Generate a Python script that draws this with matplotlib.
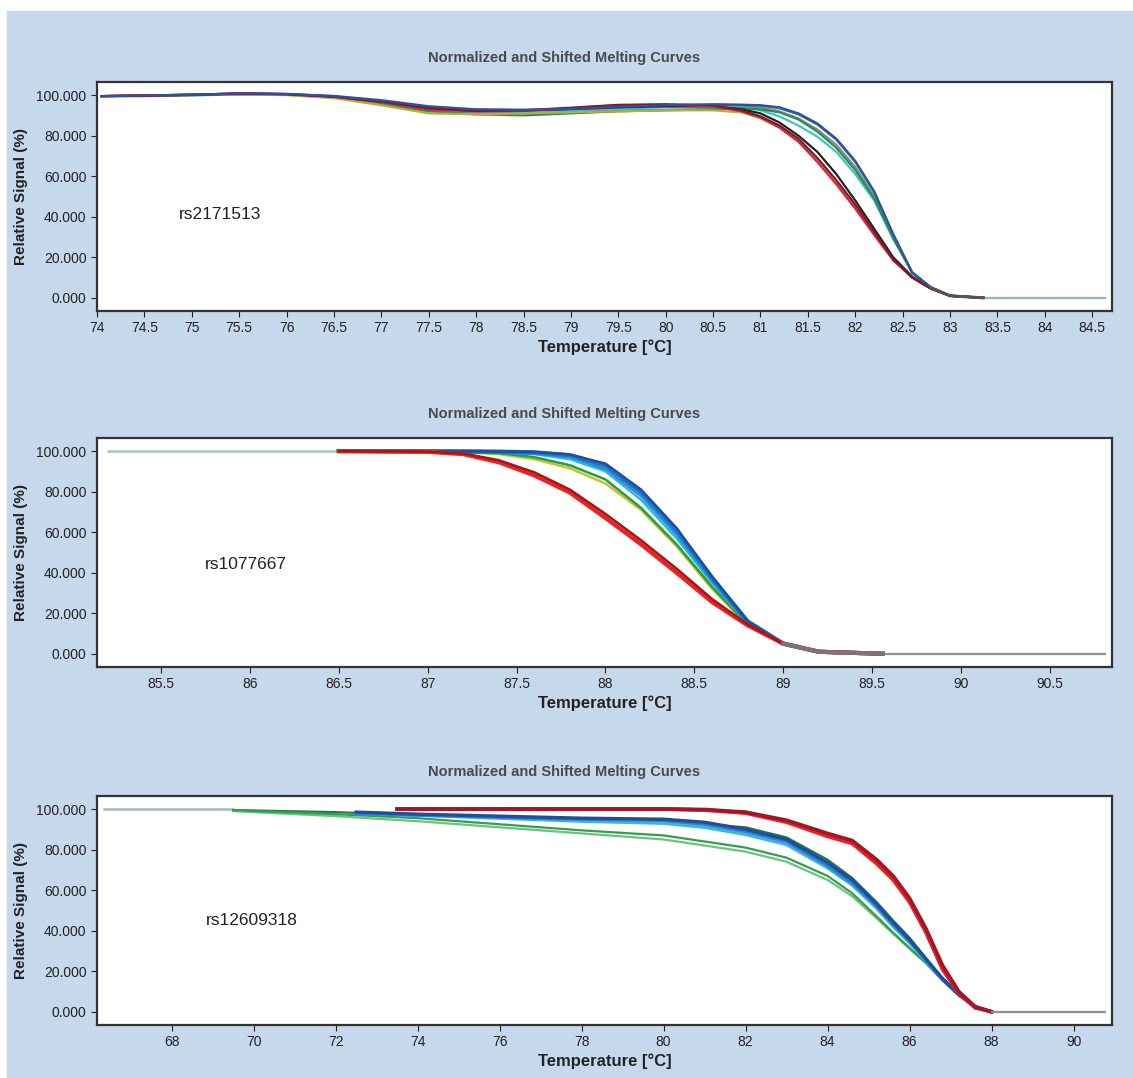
import matplotlib
matplotlib.use("Agg")
import matplotlib.pyplot as plt
from matplotlib.patches import Rectangle

plt.rcParams['font.family'] = ['Liberation Sans', 'DejaVu Sans']

# ---------------- panel 1: rs2171513 ----------------
p1_t = [74.05, 74.5, 75.0, 75.5, 76.0, 76.5, 77.0, 77.5, 78.0, 78.5, 79.0, 79.5, 80.0,
        80.5, 80.8, 81.0, 81.2, 81.4, 81.6, 81.8, 82.0, 82.2, 82.4, 82.6, 82.8, 83.0, 83.35]
p1_curves = {
    "#8a8a8a": [99.5, 99.6, 100.0, 100.5, 100.3, 99.0, 96.0, 92.5, 91.5, 91.5, 92.0, 92.5, 92.8,
                93.0, 94.5, 94.0, 92.0, 88.5, 83.0, 75.5, 64.5, 50.0, 30.0, 12.5, 5.0, 1.0, 0.0],
    "#3fc4c4": [99.5, 99.7, 100.1, 100.6, 100.4, 99.1, 96.5, 93.5, 92.5, 92.0, 92.5, 93.5, 94.0,
                94.0, 94.0, 92.5, 89.5, 85.0, 79.5, 72.0, 61.0, 48.0, 29.0, 12.5, 5.0, 1.0, 0.0],
    "#2a7f8f": [99.5, 99.8, 100.2, 100.8, 100.5, 99.4, 97.0, 94.0, 92.8, 92.5, 93.0, 94.0, 94.8,
                95.2, 95.0, 94.8, 93.5, 90.5, 85.5, 78.0, 67.0, 52.0, 31.0, 12.5, 5.0, 1.0, 0.0],
    "#2e8b57": [99.5, 99.5, 99.9, 100.3, 100.2, 98.8, 95.5, 92.0, 90.5, 90.0, 91.0, 92.0, 92.5,
                93.0, 93.5, 93.0, 91.5, 88.0, 82.0, 74.0, 63.0, 49.0, 29.5, 12.5, 5.0, 1.0, 0.0],
    "#b0b040": [99.5, 99.6, 100.0, 100.4, 100.0, 98.5, 95.0, 91.0, 90.5, 91.0, 91.5, 92.0, 92.5,
                92.5, 91.5, 88.5, 84.0, 77.5, 68.5, 57.5, 45.5, 32.0, 19.0, 10.0, 4.5, 1.0, 0.0],
    "#222222": [99.5, 99.8, 100.2, 100.8, 100.5, 99.3, 96.8, 93.5, 92.5, 92.5, 93.2, 94.0, 94.5,
                94.5, 93.0, 91.0, 86.5, 80.0, 72.0, 61.0, 48.0, 34.0, 20.0, 10.5, 4.5, 1.0, 0.0],
    "#e0203a": [99.5, 99.8, 100.2, 100.8, 100.5, 99.2, 96.5, 93.0, 92.0, 92.2, 93.5, 95.0, 95.2,
                94.5, 92.0, 89.0, 84.0, 77.0, 67.0, 56.0, 44.0, 31.0, 18.5, 10.0, 4.5, 1.0, 0.0],
    "#7a1c2c": [99.5, 99.7, 100.1, 100.7, 100.4, 99.2, 96.8, 93.5, 92.2, 92.5, 93.8, 95.2, 95.5,
                95.0, 92.5, 89.5, 85.0, 78.5, 69.0, 58.0, 46.0, 32.5, 19.0, 10.0, 4.5, 1.0, 0.0],
    "#3050a0": [99.5, 99.8, 100.2, 100.8, 100.6, 99.6, 97.5, 94.5, 93.0, 92.8, 93.2, 94.2, 95.0,
                95.5, 95.3, 95.0, 94.0, 91.0, 86.0, 78.5, 67.5, 52.5, 31.5, 12.5, 5.0, 1.0, 0.0],
}
p1_tail_t = [83.35, 84.63]
p1_tail_v = [0.0, 0.0]

# ---------------- panel 2: rs1077667 ----------------
p2_lead_t = [85.2, 86.5]
p2_lead_v = [100.0, 100.0]
p2_t = [86.5, 87.0, 87.2, 87.4, 87.6, 87.8, 88.0, 88.2, 88.4, 88.6, 88.8, 89.0, 89.2, 89.56]
p2_curves = {
    "#6a2c8a": [100, 99.9, 99.8, 99.5, 98.8, 96.5, 91.0, 78.0, 59.0, 36.0, 15.5, 5.0, 1.0, 0.0],
    "#c8c030": [100, 99.8, 99.5, 98.5, 96.0, 91.5, 84.0, 71.0, 53.0, 32.0, 14.0, 5.0, 1.0, 0.0],
    "#20a040": [100, 99.8, 99.5, 99.0, 97.0, 93.0, 86.0, 72.0, 54.0, 33.0, 14.5, 5.0, 1.0, 0.0],
    "#20c0d0": [100, 99.8, 99.6, 99.3, 98.5, 96.0, 90.0, 76.0, 57.0, 35.0, 15.0, 5.0, 1.0, 0.0],
    "#2e8fe0": [100, 99.9, 99.8, 99.6, 99.2, 97.5, 92.0, 78.5, 59.5, 36.5, 15.5, 5.0, 1.0, 0.0],
    "#1f6fd0": [100, 99.9, 99.8, 99.7, 99.4, 98.0, 93.0, 80.0, 61.0, 37.5, 16.0, 5.0, 1.0, 0.0],
    "#1d4f9a": [100, 99.9, 99.9, 99.8, 99.5, 98.3, 93.8, 81.0, 62.0, 38.0, 16.0, 5.0, 1.0, 0.0],
    "#ee2020": [100, 99.6, 98.5, 94.5, 88.0, 79.5, 67.0, 54.0, 40.0, 25.5, 14.0, 5.0, 1.0, 0.0],
    "#a01818": [100, 99.7, 98.8, 95.5, 89.5, 81.0, 69.0, 56.0, 42.0, 27.0, 14.5, 5.0, 1.0, 0.0],
}
p2_tail_t = [89.56, 90.81]
p2_tail_v = [0.0, 0.0]

# ---------------- panel 3: rs12609318 ----------------
p3_lead_t = [66.35, 69.5]
p3_lead_v = [100.0, 100.0]
p3_t_green = [69.5, 72, 74, 76, 78, 80, 82, 83, 84, 84.6, 85.2, 85.6, 86.0, 86.4, 86.8, 87.2, 87.6, 88.0]
p3_green = {
    "#1f7a50": [99.5, 98.5, 97.0, 96.0, 95.0, 94.0, 91.0, 86.0, 75.0, 66.0, 54.0, 45.0, 36.5, 26.5, 16.5, 8.5, 2.5, 0.0],
    "#70c080": [99.0, 96.5, 94.0, 91.0, 88.0, 85.0, 79.0, 74.0, 65.0, 57.0, 46.0, 38.5, 31.0, 24.0, 15.5, 8.0, 2.5, 0.0],
    "#30a050": [99.5, 97.5, 95.5, 92.5, 89.5, 87.0, 81.0, 76.0, 67.0, 58.5, 47.0, 39.0, 31.5, 24.0, 15.5, 8.0, 2.5, 0.0],
}
p3_t_blue = [72.5, 74, 76, 78, 80, 81, 82, 83, 84, 84.6, 85.2, 85.6, 86.0, 86.4, 86.8, 87.2, 87.6, 88.0]
p3_blue = {
    "#40b8c8": [98.0, 97.0, 95.5, 94.0, 93.0, 91.0, 87.5, 82.5, 71.0, 62.5, 51.0, 42.0, 34.0, 25.0, 16.0, 8.5, 2.5, 0.0],
    "#2f7fe0": [98.0, 97.0, 96.0, 95.0, 94.5, 92.5, 89.0, 84.0, 72.0, 63.5, 52.0, 43.0, 35.0, 25.5, 16.0, 8.5, 2.5, 0.0],
    "#1d4f9a": [98.5, 97.5, 96.5, 95.5, 95.0, 93.5, 90.0, 85.0, 73.5, 65.0, 53.0, 44.0, 35.5, 26.0, 16.5, 8.5, 2.5, 0.0],
}
p3_t_red = [73.5, 76, 78, 80, 81, 82, 83, 84, 84.6, 85.2, 85.6, 86.0, 86.4, 86.8, 87.2, 87.6, 88.0]
p3_red = {
    "#6a2c7a": [100, 100, 100, 100, 99.6, 98.2, 94.0, 87.0, 83.5, 74.0, 66.0, 55.0, 40.0, 22.0, 9.5, 2.0, 0.0],
    "#ee1c24": [100, 100, 100, 100, 99.5, 98.0, 93.5, 86.5, 83.0, 73.0, 65.0, 54.0, 39.0, 21.0, 9.0, 2.0, 0.0],
    "#a01828": [100, 100, 100, 100, 99.8, 98.5, 94.5, 88.0, 84.5, 75.0, 67.0, 56.0, 41.0, 23.0, 10.0, 2.5, 0.0],
}
p3_tail_t = [88.0, 90.76]
p3_tail_v = [0.0, 0.0]

title = "Normalized and Shifted Melting Curves"
yticks = [0, 20, 40, 60, 80, 100]
p1_xticks = [74 + 0.5 * i for i in range(22)]
p2_xticks = [85.5 + 0.5 * i for i in range(11)]
p3_xticks = [68 + 2 * i for i in range(12)]

fig = plt.figure(figsize=(11.33, 10.78), dpi=100)
fig.patch.set_facecolor("white")
fig.patches.append(Rectangle((7 / 1133, 0), 1126 / 1133, 1067 / 1078,
                             transform=fig.transFigure, color="#c6d8eb", zorder=-10))

ax1 = fig.add_axes([0.0856, 0.7115, 0.896, 0.2125])
ax2 = fig.add_axes([0.0856, 0.3813, 0.896, 0.2125])
ax3 = fig.add_axes([0.0856, 0.0492, 0.896, 0.2125])


def style(ax, xlim, xticks, label, lx, ly):
    ax.set_facecolor("white")
    ax.set_xlim(*xlim)
    ax.set_ylim(-6.5, 106.5)
    ax.set_xticks(xticks)
    ax.set_xticklabels(["%g" % x for x in xticks])
    ax.set_yticks(yticks)
    ax.set_yticklabels(["%.3f" % v for v in yticks])
    ax.tick_params(labelsize=10, colors="#222222", length=4, width=0.8, direction="out")
    for s in ax.spines.values():
        s.set_linewidth(1.6)
        s.set_color("#333333")
    ax.set_ylabel("Relative Signal (%)", fontsize=11, fontweight="bold", color="#222222")
    ax.yaxis.set_label_coords(-0.068, 0.5)
    ax.set_xlabel("Temperature [°C]", fontsize=12, fontweight="bold", color="#222222")
    ax.xaxis.set_label_coords(0.5, -0.125)
    ax.text(0.46, 1.105, title, transform=ax.transAxes, ha="center", va="center",
            fontsize=10.5, fontweight="bold", color="#4a4a4a")
    ax.text(lx, ly, label, fontsize=12.5, color="#222222", ha="center", va="center")


# panel 1
for c, v in p1_curves.items():
    ax1.plot(p1_t, v, color=c, lw=1.6)
ax1.plot(p1_tail_t, p1_tail_v, color="#90b8a8", lw=1.6)
ax1.plot(p1_t[-3:], p1_curves["#8a8a8a"][-3:], color="#555555", lw=2.2)
style(ax1, (74.0, 84.71), p1_xticks, "rs2171513", 75.3, 41)

# panel 2
ax2.plot(p2_lead_t, p2_lead_v, color="#a0c8c8", lw=1.8)
for c, v in p2_curves.items():
    lw = 3.0 if c in ("#2e8fe0", "#1f6fd0", "#ee2020") else 1.8
    ax2.plot(p2_t, v, color=c, lw=lw)
ax2.plot(p2_tail_t, p2_tail_v, color="#909090", lw=1.6)
ax2.plot(p2_t[-3:], p2_curves["#a01818"][-3:], color="#807078", lw=3)
style(ax2, (85.14, 90.85), p2_xticks, "rs1077667", 85.98, 44)

# panel 3
ax3.plot(p3_lead_t, p3_lead_v, color="#a8b8b8", lw=1.8)
for c, v in p3_green.items():
    ax3.plot(p3_t_green, v, color=c, lw=1.6)
for c, v in p3_blue.items():
    ax3.plot(p3_t_blue, v, color=c, lw=2.4)
for c, v in p3_red.items():
    ax3.plot(p3_t_red, v, color=c, lw=2.6)
ax3.plot(p3_tail_t, p3_tail_v, color="#909090", lw=1.6)
style(ax3, (66.18, 90.94), p3_xticks, "rs12609318", 69.96, 45)

fig.savefig("out.png", dpi=100)
